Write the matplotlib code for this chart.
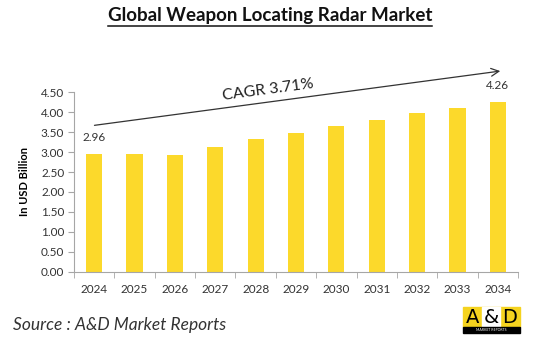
import numpy as np
import matplotlib
matplotlib.use("Agg")
import matplotlib.pyplot as plt
import matplotlib.patches as patches
from matplotlib.lines import Line2D

plt.rcParams['font.family'] = ['Lato', 'DejaVu Sans']

years = ['2024', '2025', '2026', '2027', '2028', '2029',
         '2030', '2031', '2032', '2033', '2034']
values = [2.96, 2.94, 2.92, 3.12, 3.34, 3.47, 3.66, 3.81, 3.97, 4.11, 4.26]
yticks = [0.0, 0.5, 1.0, 1.5, 2.0, 2.5, 3.0, 3.5, 4.0, 4.5]

W, H = 550, 359
fig = plt.figure(figsize=(5.5, 3.59), dpi=100)
ax = fig.add_axes([74 / W, 1 - 271.7 / H, 444 / W, 179.4 / H])

x = np.arange(len(years))
ax.bar(x, values, width=0.4, color='#FCD92B', zorder=2)

ax.set_xlim(-0.5, len(years) - 0.5)
ax.set_ylim(0, 4.5)
ax.set_yticks(yticks)
ax.set_yticklabels([f'{v:.2f}' for v in yticks], fontsize=8.5, color='#333333')
ax.set_xticks(x)
ax.set_xticklabels(years, fontsize=8.5, color='#333333')
ax.set_xticks(np.arange(-0.5, len(years)), minor=True)
ax.tick_params(axis='x', which='major', length=0, pad=9)
ax.tick_params(axis='x', which='minor', length=4, color='#a6a6a6')
ax.tick_params(axis='y', length=4, color='#a6a6a6', pad=3)
for s in ['top', 'right']:
    ax.spines[s].set_visible(False)
for s in ['left', 'bottom']:
    ax.spines[s].set_color('#a6a6a6')
    ax.spines[s].set_linewidth(0.8)

ax.set_ylabel('In USD Billion', fontsize=8, fontweight='bold', labelpad=8)

# end labels
ax.annotate(f'{values[0]:.2f}', (x[0], values[0]), xytext=(0, 8),
            textcoords='offset points', ha='center', va='bottom',
            fontsize=8.5, color='#333333')
ax.annotate(f'{values[-1]:.2f}', (x[-1], values[-1]), xytext=(0, 8),
            textcoords='offset points', ha='center', va='bottom',
            fontsize=8.5, color='#333333')

# CAGR arrow
ax.annotate('', xy=(503 / W, 1 - 70.7 / H), xytext=(91.7 / W, 1 - 125.7 / H),
            xycoords='figure fraction', textcoords='figure fraction',
            arrowprops=dict(arrowstyle='->', color='#333333', lw=0.9,
                            mutation_scale=14))
fig.text(268 / W, 1 - 90 / H, 'CAGR 3.71%', fontsize=11.5, color='#222222',
         rotation=7.6, ha='center', va='center')

# title with underline
title = fig.text(270 / W, 1 - 16 / H, 'Global Weapon Locating Radar Market',
                 fontsize=13.5, fontweight='bold', ha='center', va='center',
                 color='#111111')
fig.canvas.draw()
bb = title.get_window_extent()
fig.add_artist(Line2D([bb.x0 / W, bb.x1 / W], [1 - 26 / H, 1 - 26 / H],
                      color='#111111', lw=1.1))

# source
fig.text(13 / W, 1 - 325 / H, 'Source : A&D Market Reports', fontsize=12.5,
         style='italic', color='#333333', ha='left', va='center')

# logo
fig.add_artist(patches.Rectangle((463 / W, 1 - 327 / H), 57 / W, 20 / H,
                                 transform=fig.transFigure, color='#F5D31F'))
fig.add_artist(patches.Rectangle((482 / W, 1 - 327 / H), 18 / W, 20 / H,
                                 transform=fig.transFigure, color='white'))
fig.add_artist(patches.Rectangle((463 / W, 1 - 333 / H), 57 / W, 6 / H,
                                 transform=fig.transFigure, color='black'))
for lx, ch in [(472.5, 'A'), (491, '&'), (510, 'D')]:
    fig.text(lx / W, 1 - 317.5 / H, ch, fontsize=14, color='black',
             ha='center', va='center', family='DejaVu Sans')
fig.text(491.5 / W, 1 - 330 / H, 'MARKET REPORTS', fontsize=2.5,
         color='white', ha='center', va='center')

fig.savefig('out.png', dpi=100)
